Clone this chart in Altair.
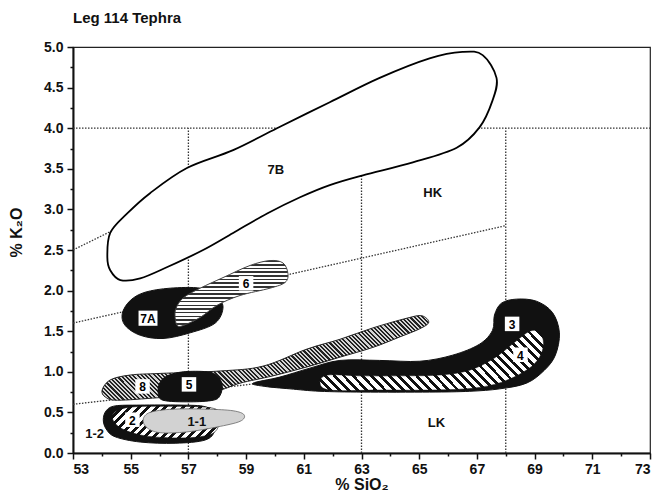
import math
import altair as alt
import pandas as pd

# ---------------- axis values ----------------
x_ticks = list(range(53, 74))
y_ticks = [i * 0.25 for i in range(21)]

# ---------------- dotted classification lines ----------------
ref_x1 = [53, 57, 63, 68, 53, 53, 53]
ref_y1 = [4.0, 0.0, 0.0, 0.0, 0.6, 1.6, 2.5]
ref_x2 = [73, 57, 63, 68, 68, 68, 57]
ref_y2 = [4.0, 4.0, 4.0, 4.0, 1.2, 2.8, 3.2]

# ---------------- field outlines (% SiO2, % K2O) ----------------
f7B_x = [54.19, 54.29, 54.88, 55.67, 56.95, 58.55, 60.07, 61.90, 63.63, 65.36, 66.50, 67.20, 67.68,
         67.54, 67.09, 66.30, 64.78, 63.05, 61.90, 60.87, 59.73, 58.55, 57.51, 56.27, 55.33, 54.64, 54.29]
f7B_y = [2.41, 2.71, 2.95, 3.20, 3.51, 3.73, 4.00, 4.32, 4.62, 4.86, 4.94, 4.90, 4.62,
         4.34, 4.01, 3.76, 3.58, 3.42, 3.30, 3.15, 2.95, 2.71, 2.50, 2.29, 2.15, 2.13, 2.25]

f7A_x = [54.71, 54.99, 55.50, 56.37, 57.41, 57.93, 58.20, 57.93, 57.06, 56.12, 55.33, 54.81]
f7A_y = [1.72, 1.88, 1.98, 2.03, 2.03, 1.94, 1.80, 1.60, 1.48, 1.41, 1.45, 1.57]

f6_x = [56.57, 56.82, 57.41, 58.20, 59.14, 59.83, 60.28, 60.45, 60.35, 59.83, 58.79, 58.00, 57.41,
        56.82, 56.61, 56.54]
f6_y = [1.78, 1.91, 2.03, 2.16, 2.31, 2.37, 2.34, 2.21, 2.10, 2.03, 1.94, 1.82, 1.67,
        1.57, 1.57, 1.67]

f3_x = [59.24, 60.17, 61.21, 62.25, 63.63, 65.02, 66.16, 67.09, 67.54, 67.61, 67.85, 68.37, 69.06,
        69.62, 69.86, 69.72, 69.34, 68.72, 67.79, 66.75, 65.36, 63.05, 61.56, 60.52, 59.65]
f3_y = [0.86, 0.935, 1.045, 1.14, 1.14, 1.13, 1.205, 1.34, 1.51, 1.70, 1.845, 1.895, 1.87,
        1.73, 1.48, 1.205, 1.02, 0.86, 0.79, 0.76, 0.75, 0.75, 0.76, 0.79, 0.82]

f4_x = [61.56, 61.83, 62.94, 64.33, 65.71, 66.75, 67.61, 68.31, 68.83, 69.17, 69.31, 69.17, 68.76,
        67.96, 66.92, 65.36, 63.63, 61.90]
f4_y = [0.87, 0.96, 0.95, 0.95, 0.96, 1.02, 1.17, 1.365, 1.50, 1.49, 1.35, 1.18, 1.03,
        0.885, 0.80, 0.775, 0.775, 0.775]

f8_x = [54.01, 54.29, 54.98, 56.02, 58.10, 59.59, 61.11, 62.25, 63.39, 64.57, 65.09, 65.33, 65.02,
        64.33, 63.39, 62.25, 61.11, 59.93, 58.79, 58.10, 57.06, 55.92, 54.54, 54.12]
f8_y = [0.775, 0.90, 0.96, 0.98, 1.01, 1.07, 1.28, 1.40, 1.54, 1.66, 1.69, 1.61, 1.53,
        1.43, 1.30, 1.18, 1.06, 0.95, 0.86, 0.775, 0.71, 0.68, 0.65, 0.69]

f5_x = [55.95, 56.02, 56.27, 56.82, 57.65, 58.00, 58.17, 58.10, 57.86, 57.06, 56.12]
f5_y = [0.75, 0.87, 0.95, 1.00, 1.00, 0.95, 0.84, 0.71, 0.65, 0.63, 0.65]

f12_x = [54.05, 54.15, 54.46, 55.33, 56.71, 57.58, 57.92, 57.92, 57.58, 56.54, 55.33, 54.46, 54.15]
f12_y = [0.41, 0.52, 0.58, 0.59, 0.59, 0.57, 0.47, 0.28, 0.16, 0.12, 0.135, 0.20, 0.295]

f2_x = [54.36, 54.57, 55.16, 56.37, 57.58, 58.03, 58.10, 57.92, 57.41, 56.54, 55.50, 54.81, 54.47]
f2_y = [0.455, 0.53, 0.57, 0.575, 0.565, 0.52, 0.41, 0.26, 0.20, 0.185, 0.21, 0.28, 0.36]

f11_x = [55.43, 55.67, 56.47, 57.65, 58.55, 58.93, 58.79, 57.99, 56.95, 56.02, 55.57]
f11_y = [0.41, 0.50, 0.54, 0.54, 0.52, 0.47, 0.39, 0.32, 0.26, 0.25, 0.31]

# ---------------- labels ----------------
plain_text = ["7B", "HK", "LK", "1-1", "1-2"]
plain_x = [60.03, 65.47, 65.60, 57.29, 53.75]
plain_y = [3.49, 3.20, 0.37, 0.38, 0.23]

box_text = ["7A", "6", "8", "5", "3", "2", "4"]
box_x = [55.60, 59.00, 55.41, 57.02, 68.22, 55.06, 68.51]
box_y = [1.66, 2.09, 0.82, 0.845, 1.59, 0.41, 1.21]

# ---------------- layout ----------------
W, H = 577, 406
PAD = {"left": 73, "top": 47, "right": 8, "bottom": 50}
FONT = "Liberation Sans"
PX_X = W / (x_ticks[-1] - x_ticks[0])
PX_Y = H / (y_ticks[-1] - y_ticks[0])

xs = alt.Scale(domain=[x_ticks[0], x_ticks[-1]], nice=False, zero=False)
ys = alt.Scale(domain=[y_ticks[0], y_ticks[-1]], nice=False, zero=False)

x_axis = alt.Axis(
    values=x_ticks, labelExpr="datum.value % 2 == 1 ? datum.label : ''",
    tickSize={"condition": {"test": "datum.value % 2 == 0", "value": 3}, "value": 6},
    grid=False, title="% SiO₂", titleY=36, titleBaseline="alphabetic",
    labelPadding=3,
)
y_axis = alt.Axis(
    values=y_ticks, format=".1f",
    labelExpr="(round(datum.value * 4) % 2 == 0) ? datum.label : ''",
    tickSize={"condition": {"test": "round(datum.value * 4) % 2 != 0", "value": 3}, "value": 6},
    grid=False, title="% K₂O", titleAngle=-90, titleX=-57, titleY=185,
    titleAlign="center", titleBaseline="middle", labelPadding=4,
)


def stripes(xv, yv, normal, period, c1, c2, duty):
    w = (max(xv) - min(xv)) * PX_X
    h = (max(yv) - min(yv)) * PX_Y
    nx, ny = normal
    ln = math.hypot(nx, ny)
    nx, ny = nx / ln, ny / ln
    a, b = w * nx, h * ny
    span = abs(a) + abs(b)
    u0 = 0.0 if a >= 0 else 1.0
    v0 = 0.0 if b >= 0 else 1.0
    k = span / (a * a + b * b)
    n = max(1, int(round(span / period)))
    stops = []
    for i in range(n):
        o0, o1, o2 = i / n, (i + duty) / n, (i + 1) / n
        stops += [{"offset": o0, "color": c1}, {"offset": o1, "color": c1},
                  {"offset": o1, "color": c2}, {"offset": o2, "color": c2}]
    return {"gradient": "linear", "x1": u0, "y1": v0,
            "x2": u0 + a * k, "y2": v0 + b * k, "stops": stops}


def enc(ch):
    return ch.encode(
        x=alt.X("x:Q", scale=xs, axis=x_axis),
        y=alt.Y("y:Q", scale=ys, axis=y_axis),
    )


def field(xv, yv, fill, stroke="black", sw=1.0):
    df = pd.DataFrame({"x": xv, "y": yv, "i": list(range(len(xv)))})
    return enc(alt.Chart(df).mark_line(
        interpolate="cardinal-closed", fill=fill, stroke=stroke, strokeWidth=sw
    )).encode(order=alt.Order("i:Q"))


ref_df = pd.DataFrame({"x": ref_x1, "y": ref_y1, "x2": ref_x2, "y2": ref_y2})
refs = enc(alt.Chart(ref_df).mark_rule(strokeDash=[1.5, 1.5], color="#333", strokeWidth=1.3)).encode(
    x2="x2:Q", y2="y2:Q",
)

layers = [
    refs,
    field(f7B_x, f7B_y, "white", "black", 1.8),
    field(f7A_x, f7A_y, "#111", "#111", 1.0),
    field(f6_x, f6_y, stripes(f6_x, f6_y, (0, 1), 3.6, "#333", "white", 0.45), "#444", 1.0),
    field(f12_x, f12_y, "#111", "#111", 1.0),
    field(f2_x, f2_y, stripes(f2_x, f2_y, (1, 1), 6.0, "#111", "white", 0.45), "#111", 0.6),
    field(f11_x, f11_y, "#d2d2d2", "#666", 0.8),
    field(f3_x, f3_y, "#111", "#111", 1.0),
    field(f4_x, f4_y, stripes(f4_x, f4_y, (1, -1), 6.5, "#111", "white", 0.42), "#111", 0.5),
    field(f8_x, f8_y, stripes(f8_x, f8_y, (1, -1), 3.0, "#222", "#d4d4d4", 0.5), "#222", 1.0),
    field(f5_x, f5_y, "#111", "#111", 1.0),
]

box_df = pd.DataFrame({"x": box_x, "y": box_y, "t": box_text})
box_df["wide"] = box_df["t"].str.len() > 1
boxes_wide = enc(alt.Chart(box_df[box_df["wide"]]).mark_point(
    shape="M-1.25,-1L1.25,-1L1.25,1L-1.25,1Z", filled=True, fill="white", opacity=1, size=230
))
boxes_narrow = enc(alt.Chart(box_df[~box_df["wide"]]).mark_point(
    shape="square", filled=True, fill="white", opacity=1, size=210
))
box_labels = enc(alt.Chart(box_df).mark_text(
    font=FONT, fontSize=12, fontWeight="bold", color="black", baseline="middle", dy=1
)).encode(text="t:N")

plain_df = pd.DataFrame({"x": plain_x, "y": plain_y, "t": plain_text})
plain_labels = enc(alt.Chart(plain_df).mark_text(
    font=FONT, fontSize=13, fontWeight="bold", color="#111", baseline="middle"
)).encode(text="t:N")

chart = alt.layer(*layers, boxes_wide, boxes_narrow, box_labels, plain_labels).properties(
    width=W, height=H,
    title=alt.TitleParams("Leg 114 Tephra", anchor="start", frame="group", font=FONT,
                          fontSize=15, fontWeight="bold", color="#111", offset=14),
    autosize=alt.AutoSizeParams(type="none"),
    padding=PAD,
    background="white",
).configure_view(
    stroke="#222", strokeWidth=1.2
).configure_axis(
    domainColor="#111", domainWidth=2, tickColor="#111", tickWidth=1.5,
    labelFont=FONT, labelFontSize=14, labelFontWeight="bold", labelColor="#111",
    titleFont=FONT, titleFontSize=16, titleFontWeight="bold", titleColor="#111",
)

chart.save("out.html", embed_options={"renderer": "svg", "actions": False})
